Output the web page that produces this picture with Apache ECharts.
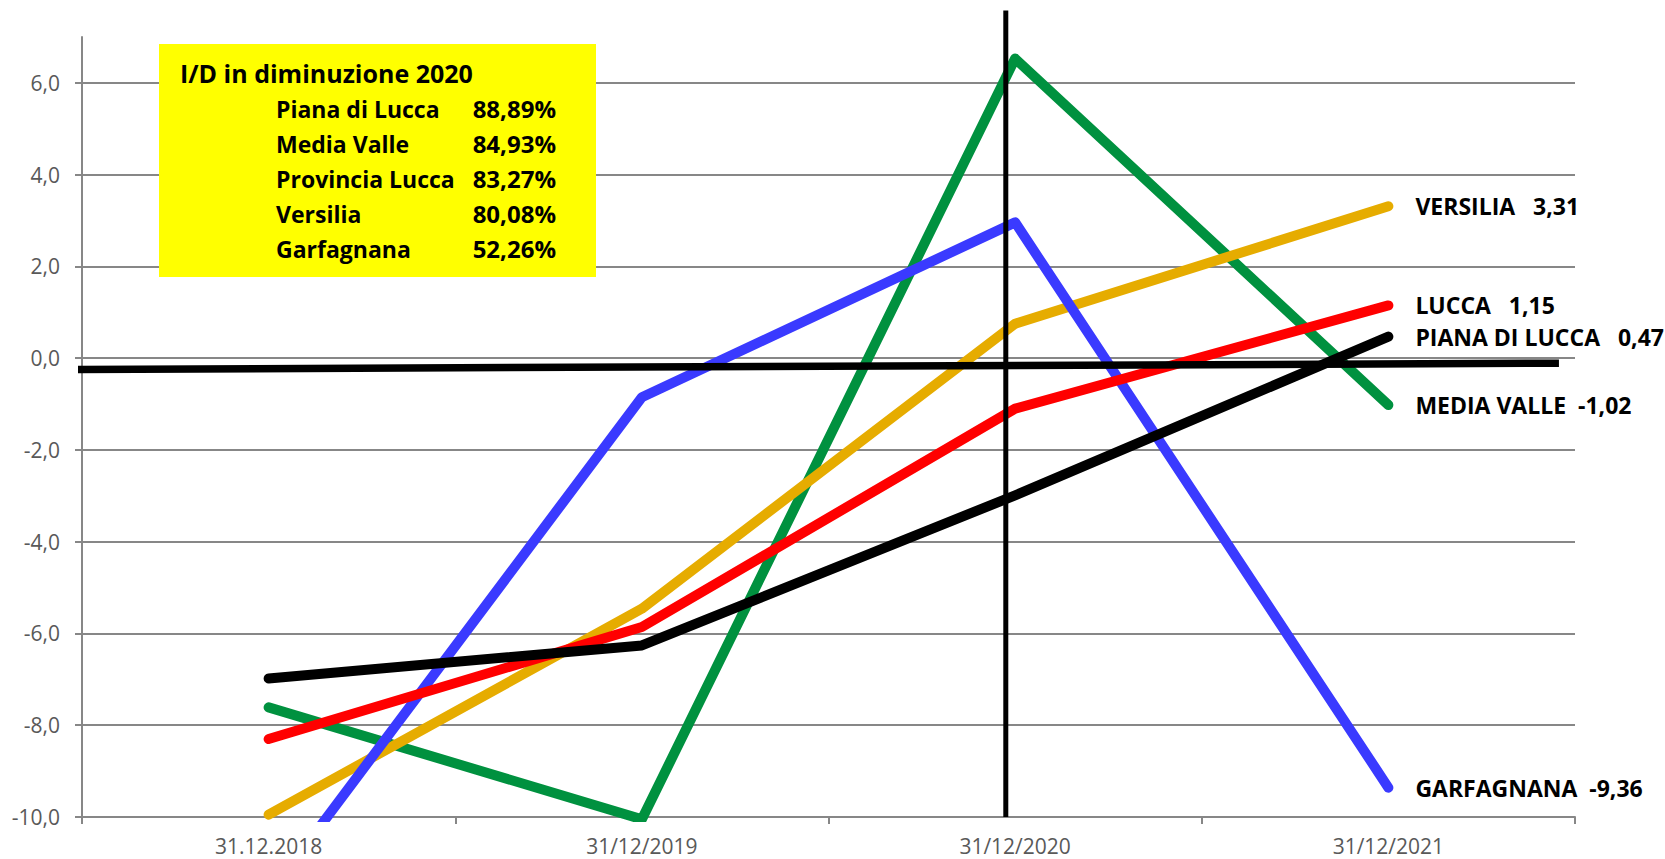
<!DOCTYPE html>
<html>
<head>
<meta charset="utf-8">
<script src="https://cdn.jsdelivr.net/npm/echarts@6/dist/echarts.min.js"></script>
<style>
html,body{margin:0;padding:0;background:#ffffff;}
#chart{width:1665px;height:859px;}
</style>
</head>
<body>
<div id="chart"></div>
<script>
// ---- data ----
const categories = ['31.12.2018', '31/12/2019', '31/12/2020', '31/12/2021'];
const seriesNames = ['MEDIA VALLE', 'VERSILIA', 'GARFAGNANA', 'LUCCA', 'PIANA DI LUCCA'];
const mediaValle   = [-7.61, -10.05, 6.53, -1.02];
const versilia     = [-9.95, -5.46, 0.75, 3.31];
const garfagnana   = [-11.7, -0.85, 2.96, -9.36];
const lucca        = [-8.30, -5.86, -1.10, 1.15];
const pianaDiLucca = [-6.98, -6.26, -2.99, 0.47];
const seriesColors = ['#00913F', '#E6AC00', '#3A3AFF', '#FF0000', '#000000'];
const yTicks = [-10, -8, -6, -4, -2, 0, 2, 4, 6];
const boxTitle = 'I/D in diminuzione 2020';
const boxNames = ['Piana di Lucca', 'Media Valle', 'Provincia Lucca', 'Versilia', 'Garfagnana'];
const boxValues = ['88,89%', '84,93%', '83,27%', '80,08%', '52,26%'];
// hand-drawn reference lines (x in category-index units, y in data units)
const refLineH = [[-0.54, -0.246], [3.457, -0.109]];
const refLineV = [[1.975, -10], [1.975, 7.58]];

const allSeries = [mediaValle, versilia, garfagnana, lucca, pianaDiLucca];
const FONT = '"Open Sans", "Liberation Sans", sans-serif';
const GRAY = '#878787';
const fmt = v => v.toFixed(2).replace('.', ',');

const chart = echarts.init(document.getElementById('chart'), null, {renderer: 'svg'});

const lineSeries = allSeries.map((data, i) => ({
  name: seriesNames[i],
  type: 'line',
  data: data,
  xAxisIndex: 0,
  yAxisIndex: 0,
  showSymbol: false,
  symbol: 'none',
  z: 3,
  lineStyle: {color: seriesColors[i], width: 10, cap: 'round', join: 'round'},
  itemStyle: {color: seriesColors[i]},
  endLabel: {
    show: true,
    distance: 27,
    color: '#000',
    fontFamily: FONT,
    fontWeight: 'bold',
    fontSize: 23,
    formatter: p => seriesNames[i] + (p.value < 0 ? '  ' : '   ') + fmt(p.value)
  }
}));

const gridSeries = {
  name: 'grid',
  type: 'line',
  data: [null, null, null, null],
  showSymbol: false,
  silent: true,
  z: 1,
  markLine: {
    silent: true,
    symbol: ['none', 'none'],
    z: 1,
    label: {show: false},
    lineStyle: {color: GRAY, width: 2, type: 'solid'},
    data: yTicks.filter(v => v !== -10).map(v => ({yAxis: v}))
  }
};

const refSeries = [refLineH, refLineV].map((d, i) => ({
  name: 'ref' + i,
  type: 'line',
  xAxisIndex: 1,
  yAxisIndex: 0,
  data: d,
  symbol: 'none',
  showSymbol: false,
  clip: false,
  silent: true,
  z: 10,
  lineStyle: {color: '#000000', width: i === 0 ? 7.5 : 5, cap: 'butt'}
}));

const graphic = [{
  type: 'rect',
  left: 159, top: 44,
  shape: {width: 437, height: 233},
  style: {fill: '#FFFF00'},
  z: 100
}, {
  type: 'text',
  x: 180, y: 73,
  style: {text: boxTitle, font: 'bold 25px ' + FONT, fill: '#000', verticalAlign: 'middle', align: 'left'},
  z: 101
}];
boxNames.forEach((n, i) => {
  graphic.push({
    type: 'text', x: 276, y: 108.5 + i * 35,
    style: {text: n, font: 'bold 23px ' + FONT, fill: '#000', verticalAlign: 'middle', align: 'left'},
    z: 101
  });
  graphic.push({
    type: 'text', x: 556, y: 108.5 + i * 35,
    style: {text: boxValues[i], font: 'bold 24px ' + FONT, fill: '#000', verticalAlign: 'middle', align: 'right'},
    z: 101
  });
});

chart.setOption({
  animation: false,
  backgroundColor: '#ffffff',
  grid: {left: 82, right: 90, top: 37, bottom: 42},
  xAxis: [{
    type: 'category',
    data: categories,
    boundaryGap: true,
    axisLine: {show: true, onZero: false, lineStyle: {color: GRAY, width: 2}},
    axisTick: {show: true, length: 7, lineStyle: {color: GRAY, width: 2}},
    axisLabel: {color: '#595959', fontFamily: FONT, fontSize: 21, lineHeight: 22, margin: 18},
    splitLine: {show: false}
  }, {
    type: 'value',
    min: -0.5,
    max: 3.5,
    show: false,
    axisLine: {show: false, onZero: false},
    splitLine: {show: false}
  }],
  yAxis: [{
    type: 'value',
    min: -10,
    max: 7,
    interval: 2,
    axisLine: {show: true, onZero: false, lineStyle: {color: GRAY, width: 2}},
    axisTick: {show: true, length: 7, lineStyle: {color: GRAY, width: 2}},
    axisLabel: {
      color: '#595959', fontFamily: FONT, fontSize: 21, margin: 22,
      showMaxLabel: false,
      formatter: v => (yTicks.indexOf(v) >= 0 ? v.toFixed(1).replace('.', ',') : '')
    },
    splitLine: {show: false}
  }],
  series: [gridSeries].concat(lineSeries, refSeries),
  graphic: graphic
});
</script>
</body>
</html>
